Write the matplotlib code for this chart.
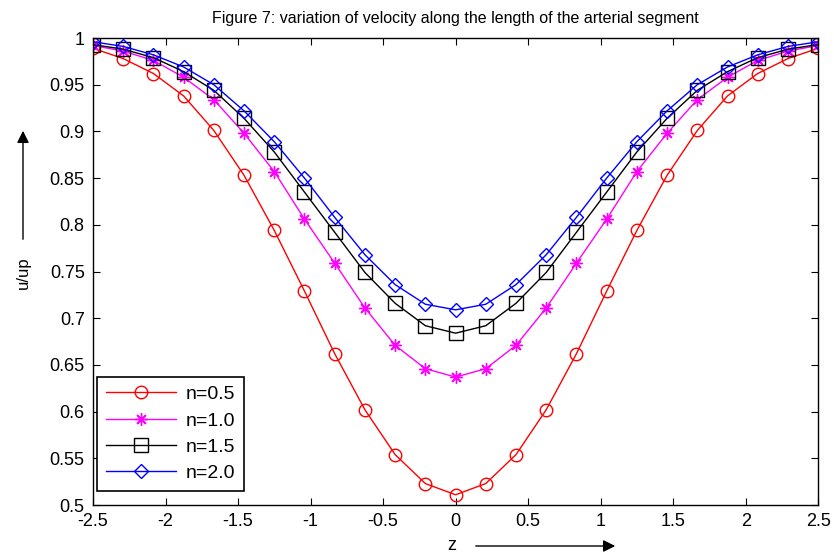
import numpy as np
import matplotlib.pyplot as plt

plt.rcParams['font.family'] = ['Liberation Sans', 'DejaVu Sans']

# half profile from z=-2.5 to z=0 (symmetric about z=0)
z = np.linspace(-2.5, 2.5, 25)
half_05 = [0.989, 0.978, 0.962, 0.938, 0.901, 0.853, 0.794, 0.729, 0.662, 0.602, 0.554, 0.523, 0.511]
half_10 = [0.992, 0.986, 0.976, 0.958, 0.934, 0.898, 0.857, 0.806, 0.759, 0.711, 0.671, 0.646, 0.637]
half_15 = [0.993, 0.988, 0.979, 0.964, 0.944, 0.914, 0.878, 0.835, 0.792, 0.749, 0.716, 0.692, 0.684]
half_20 = [0.996, 0.991, 0.982, 0.969, 0.950, 0.922, 0.889, 0.850, 0.808, 0.768, 0.736, 0.715, 0.709]

def full(h):
    return h + h[-2::-1]

labels = ['n=0.5', 'n=1.0', 'n=1.5', 'n=2.0']
colors = ['#ff0000', '#ff00ff', '#000000', '#0000ff']
markers = ['o', (8, 2, 0), 's', 'D']
sizes = [9, 9, 10, 7.5]

xtick_labels = ['-2.5', '-2', '-1.5', '-1', '-0.5', '0', '0.5', '1', '1.5', '2', '2.5']
ytick_labels = ['0.5', '0.55', '0.6', '0.65', '0.7', '0.75', '0.8', '0.85', '0.9', '0.95', '1']

fig = plt.figure(figsize=(8.34, 5.55), dpi=100)
ax = fig.add_axes([0.1115, 0.090, 0.8695, 0.8415])

for h, lab, c, m, ms in zip([half_05, half_10, half_15, half_20], labels, colors, markers, sizes):
    ax.plot(z, full(h), color=c, marker=m, markerfacecolor='none', markeredgecolor=c,
            markersize=ms, markeredgewidth=1, linewidth=1, label=lab)

ax.set_xlim(-2.5, 2.5)
ax.set_ylim(0.5, 1.0)
ax.set_xticks(np.arange(-2.5, 2.51, 0.5))
ax.set_xticklabels(xtick_labels)
ax.set_yticks(np.arange(0.5, 1.001, 0.05))
ax.set_yticklabels(ytick_labels)
ax.tick_params(direction='in', top=True, right=True, labelsize=13, length=5, pad=6)
for s in ax.spines.values():
    s.set_linewidth(1)

ax.set_title('Figure 7: variation of velocity along the length of the arterial segment',
             fontsize=11.5, pad=11)

leg = ax.legend(loc='lower left', bbox_to_anchor=(0.0055, 0.03), borderaxespad=0,
                fontsize=14, fancybox=False, framealpha=1, edgecolor='black',
                handlelength=3.6, handletextpad=0.5, labelspacing=0.45, borderpad=0.45)
leg.get_frame().set_linewidth(1.2)

# axis labels with arrows
fig.text(23 / 834, 1 - 273 / 555, 'u/up', rotation=90, ha='center', va='center', fontsize=12)
fig.add_artist(plt.Annotation('', xy=(23 / 834, 1 - 128 / 555), xytext=(23 / 834, 1 - 242 / 555),
                              xycoords='figure fraction',
                              arrowprops=dict(arrowstyle='-|>', color='black', lw=1, mutation_scale=18)))
fig.text(452 / 834, 1 - 546 / 555, 'z', ha='center', va='center', fontsize=13)
fig.add_artist(plt.Annotation('', xy=(618 / 834, 1 - 546 / 555), xytext=(473 / 834, 1 - 546 / 555),
                              xycoords='figure fraction',
                              arrowprops=dict(arrowstyle='-|>', color='black', lw=1, mutation_scale=18)))

fig.savefig('out.png', dpi=100)
